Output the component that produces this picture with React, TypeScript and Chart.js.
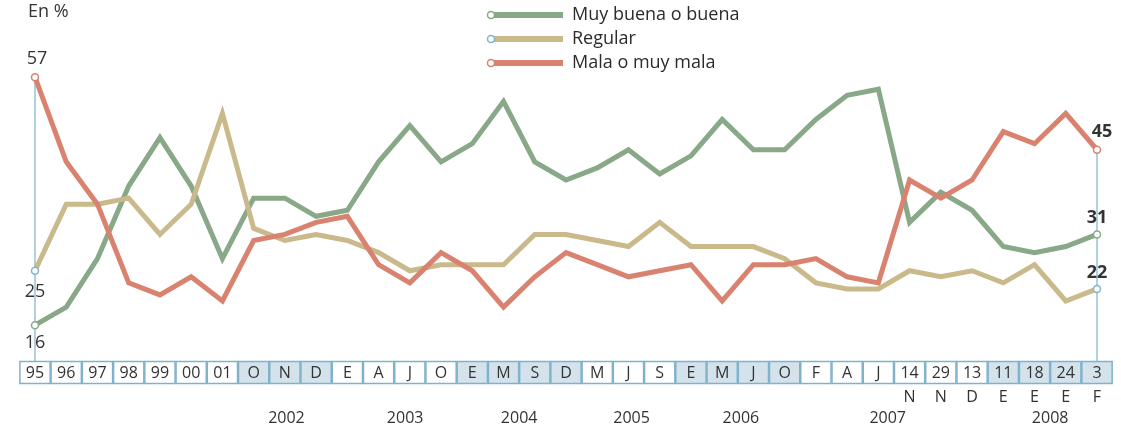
import React, { useEffect, useRef } from "react";
import { Chart, registerables } from "chart.js";

Chart.register(...registerables);

const categories = ["95","96","97","98","99","00","01","O","N","D","E","A","J","O","E","M","S","D","M","J","S","E","M","J","O","F","A","J","14","29","13","11","18","24","3"];
const shaded = [7,8,9,14,15,16,17,21,22,23,24,31,32,33,34];
const subMonths = ["","","","","","","","","","","","","","","","","","","","","","","","","","","","","N","N","D","E","E","E","F"];
const years = ["2002","2003","2004","2005","2006","2007","2008"];
const yearPos = [8.05, 11.85, 15.5, 19.1, 22.6, 27.3, 32.5];

const good = [16,19,27,39,47,39,27,37,37,34,35,43,49,43,46,53,43,40,42,45,41,44,50,45,45,50,54,55,33,38,35,29,28,29,31];
const regular = [25,36,36,37,31,36,51,32,30,31,30,28,25,26,26,26,31,31,30,29,33,29,29,29,27,23,22,22,25,24,25,23,26,20,22];
const bad = [57,43,36,23,21,24,20,30,31,33,34,26,23,28,25,19,24,28,26,24,25,26,20,26,26,27,24,23,40,37,40,48,46,51,45];

const seriesNames = ["Muy buena o buena", "Regular", "Mala o muy mala"];
const GREEN = "#88a887";
const TAN = "#c9b98b";
const RED = "#d9826f";
const BLUE = "#7fb3cf";
const FONT = "'Open Sans', 'Noto Sans', sans-serif";

export default function App() {
  const ref = useRef<HTMLCanvasElement | null>(null);
  useEffect(() => {
    const canvas = ref.current!;
    const n = categories.length;
    const radii = categories.map((_, i) => (i === 0 || i === n - 1 ? 3.5 : 0));
    const overlay = {
      id: "overlay",
      beforeDatasetsDraw(chart: any) {
        const ctx = chart.ctx;
        const xs = chart.scales.x;
        const ys = chart.scales.y;
        const boxTop = 361;
        ctx.save();
        ctx.strokeStyle = BLUE;
        ctx.lineWidth = 1.2;
        const x0 = xs.getPixelForValue(0);
        const xl = xs.getPixelForValue(n - 1);
        ctx.beginPath();
        ctx.moveTo(x0, ys.getPixelForValue(Math.max(good[0], regular[0], bad[0])));
        ctx.lineTo(x0, boxTop);
        ctx.moveTo(xl, ys.getPixelForValue(Math.max(good[n - 1], regular[n - 1], bad[n - 1])));
        ctx.lineTo(xl, boxTop);
        ctx.stroke();
        ctx.restore();
      },
      afterDraw(chart: any) {
        const ctx = chart.ctx;
        const xs = chart.scales.x;
        const ys = chart.scales.y;
        const step = xs.getPixelForValue(1) - xs.getPixelForValue(0);
        const boxTop = 361;
        const boxH = 23;
        ctx.save();
        categories.forEach((c, i) => {
          const cx = xs.getPixelForValue(i);
          const left = cx - step / 2;
          ctx.fillStyle = shaded.includes(i) ? "#d4e3eb" : "#ffffff";
          ctx.fillRect(left, boxTop, step, boxH);
        });
        ctx.strokeStyle = "#80b2cb";
        ctx.lineWidth = 1.5;
        categories.forEach((c, i) => {
          const cx = xs.getPixelForValue(i);
          const left = cx - step / 2;
          ctx.strokeRect(left + 0.5, boxTop + 0.5, step - 1, boxH - 1);
        });
        ctx.fillStyle = "#333333";
        ctx.font = `16px ${FONT}`;
        ctx.textAlign = "center";
        ctx.textBaseline = "middle";
        categories.forEach((c, i) => {
          ctx.fillText(c, xs.getPixelForValue(i), boxTop + boxH / 2 + 1);
        });
        subMonths.forEach((m, i) => {
          if (m) ctx.fillText(m, xs.getPixelForValue(i), 397);
        });
        years.forEach((y, k) => {
          const px = xs.getPixelForValue(0) + yearPos[k] * step;
          ctx.fillText(y, px, 418);
        });
        ctx.font = `18px ${FONT}`;
        const x0 = xs.getPixelForValue(0);
        ctx.fillText(String(bad[0]), x0 + 2, ys.getPixelForValue(bad[0]) - 18);
        ctx.fillText(String(regular[0]), x0, ys.getPixelForValue(regular[0]) + 21);
        ctx.fillText(String(good[0]), x0, ys.getPixelForValue(good[0]) + 18);
        ctx.font = `bold 18px ${FONT}`;
        const xl = xs.getPixelForValue(n - 1);
        ctx.fillText(String(bad[n - 1]), xl + 5, ys.getPixelForValue(bad[n - 1]) - 18);
        ctx.fillText(String(good[n - 1]), xl, ys.getPixelForValue(good[n - 1]) - 17);
        ctx.fillText(String(regular[n - 1]), xl, ys.getPixelForValue(regular[n - 1]) - 16);
        ctx.textAlign = "left";
        ctx.font = `18px ${FONT}`;
        ctx.fillText("En %", 28, 12);
        const legColors = [GREEN, TAN, RED];
        const legDot = ["#88a887", BLUE, RED];
        seriesNames.forEach((name, k) => {
          const ly = 15 + k * 24;
          ctx.strokeStyle = legColors[k];
          ctx.lineWidth = 6;
          ctx.beginPath();
          ctx.moveTo(491, ly);
          ctx.lineTo(563, ly);
          ctx.stroke();
          ctx.beginPath();
          ctx.arc(491, ly, 3.5, 0, Math.PI * 2);
          ctx.fillStyle = "#ffffff";
          ctx.fill();
          ctx.lineWidth = 1.5;
          ctx.strokeStyle = legDot[k];
          ctx.stroke();
          ctx.fillStyle = "#2b2b2b";
          ctx.font = `18px ${FONT}`;
          ctx.textBaseline = "middle";
          ctx.fillText(name, 572, ly);
        });
        ctx.restore();
      },
    };
    const mk = (label: string, data: number[], color: string, dot: string) => ({
      label,
      data,
      borderColor: color,
      backgroundColor: color,
      borderWidth: 5,
      pointRadius: radii,
      pointBackgroundColor: "#ffffff",
      pointBorderColor: dot,
      pointBorderWidth: 1.5,
      tension: 0,
      clip: false as any,
    });
    const chart = new Chart(canvas, {
      type: "line",
      data: {
        labels: categories,
        datasets: [
          mk(seriesNames[2], bad, RED, RED),
          mk(seriesNames[1], regular, TAN, BLUE),
          mk(seriesNames[0], good, GREEN, GREEN),
        ],
      },
      options: {
        responsive: false,
        animation: false,
        layout: { padding: { left: 35, right: 24, top: 59, bottom: 7 } },
        plugins: { legend: { display: false }, tooltip: { enabled: false } },
        scales: {
          x: { display: false, offset: false },
          y: { display: false, min: 0, max: 60 },
        },
      },
      plugins: [overlay],
    });
    return () => chart.destroy();
  }, []);
  return (
    <div style={{ position: "fixed", left: 0, top: 0, width: 1121, height: 429, background: "#fff" }}>
      <canvas ref={ref} width={1121} height={429} />
    </div>
  );
}
